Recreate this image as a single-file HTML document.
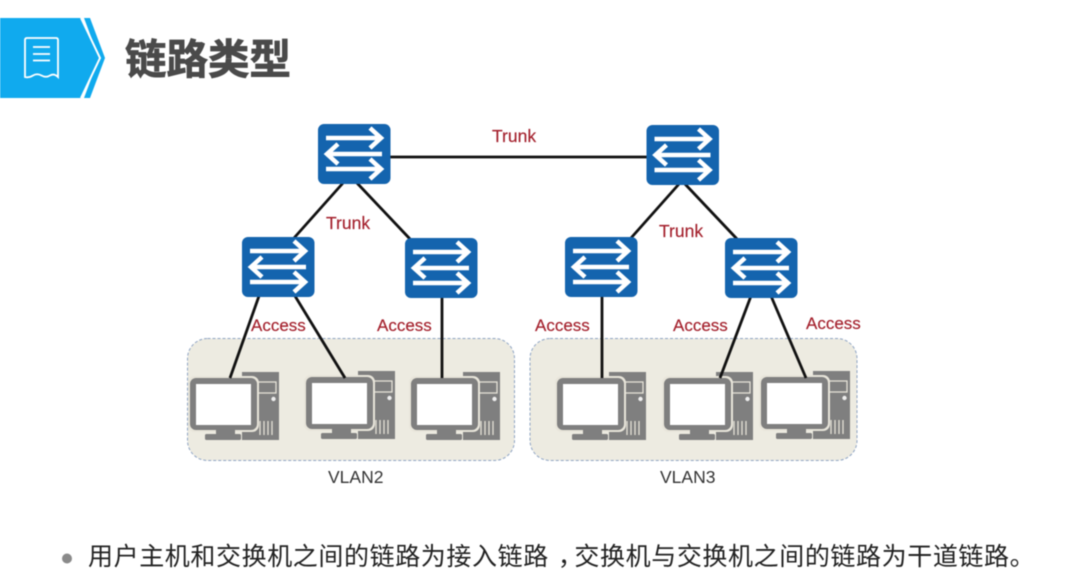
<!DOCTYPE html>
<html lang="zh"><head><meta charset="utf-8"><title>链路类型</title>
<style>
html,body{margin:0;padding:0;background:#fff;width:1066px;height:587px;overflow:hidden}
svg{display:block;filter:blur(.5px)}
text{font-family:"Liberation Sans","Noto Sans CJK SC",sans-serif}
.r{fill:#a31f2b;font-size:17px;stroke:#a31f2b;stroke-width:.15}
.t{font-size:17.500px}
.v{fill:#333;font-size:17.500px}
</style></head><body>
<svg width="1066" height="587" viewBox="0 0 1066 587" xmlns="http://www.w3.org/2000/svg">
<defs>
<g id="sw">
<rect x="0" y="0" width="72.500" height="60" rx="6" fill="#1464ae"/>
<g fill="none" stroke="#fff" stroke-width="4.500">
<path d="M8 14H62M52 4L63 14L52 24"/>
<path d="M64 30H10M20 20L9 30L20 40"/>
<path d="M8 45H62M52 35L63 45L52 55"/>
</g>
</g>
<g id="pc">
<path d="M52 -6H89V62H52Z" fill="#7f7f7f"/>
<rect x="55" y="4" width="31" height="11" fill="#7f7f7f" stroke="#e6e3d8" stroke-width="1.300"/>
<circle cx="83.500" cy="21" r="2.200" fill="#eeeeee"/>
<g stroke="#e6e3d8" stroke-width="1.300"><path d="M70 43V57M74 43V57M78 43V57M82 43V57"/></g>
<rect x="-2" y="-2" width="71" height="56" rx="7" fill="#e8e5da"/>
<rect x="0" y="0" width="67" height="52" rx="6" fill="#7f7f7f"/>
<rect x="6" y="6" width="55" height="41" fill="#fff"/>
<path d="M26 52H45V56H26Z" fill="#7f7f7f"/>
<rect x="15" y="56" width="36" height="6" rx="1.500" fill="#7f7f7f"/>
</g>
</defs>

<path d="M0 18H81L100 58L81 98H0Z" fill="#10aaee"/>
<path d="M84 18H90L105 58L90 98H84L99 58Z" fill="#10aaee"/>
<path d="M81 18L100 58L81 98" fill="none" stroke="#fff" stroke-width="2"/>
<path d="M25 40Q25 38 27 38H56Q58 38 58 40V77Q54 73 50 75.500Q46 78 41.500 75.500Q37 73 33 75.500Q29 78 25 77Z" fill="none" stroke="#fff" stroke-width="1.800"/>
<path d="M33 47H50M33 54H50M33 60.500H50" stroke="#fff" stroke-width="1.800" fill="none"/>
<text x="125" y="74" font-size="41.500" font-weight="700" fill="#4a4a4a" stroke="#4a4a4a" stroke-width=".8">链路类型</text>

<rect x="187.500" y="338.500" width="327" height="122" rx="20" fill="#edebe1" stroke="#8ea4c4" stroke-width="1" stroke-dasharray="3 2"/>
<rect x="530" y="338.500" width="327" height="122" rx="20" fill="#edebe1" stroke="#8ea4c4" stroke-width="1" stroke-dasharray="3 2"/>

<use href="#pc" x="190" y="378"/>
<use href="#pc" x="306" y="377"/>
<use href="#pc" x="411" y="378"/>
<use href="#pc" x="557" y="378"/>
<use href="#pc" x="664" y="378"/>
<use href="#pc" x="761" y="377"/>

<g stroke="#111" stroke-width="2.800" fill="none">
<path d="M390 157H647"/>
<path d="M343 183L294 238M357 183L410 239"/>
<path d="M679 184L631 238M685 184L737 239"/>
<path d="M259 296L230 378M295 296L345 378"/>
<path d="M442 297V378"/>
<path d="M602 296V378"/>
<path d="M751 296L720 378M771 296L806 378"/>
</g>

<use href="#sw" x="318" y="124"/>
<use href="#sw" x="646.500" y="125"/>
<use href="#sw" x="242" y="237"/>
<use href="#sw" x="405" y="238"/>
<use href="#sw" x="565" y="237"/>
<use href="#sw" x="725" y="238"/>

<text class="r t" x="492" y="142">Trunk</text>
<text class="r t" x="326" y="229">Trunk</text>
<text class="r t" x="659" y="237">Trunk</text>
<text class="r" x="251" y="331">Access</text>
<text class="r" x="377" y="331">Access</text>
<text class="r" x="535" y="331">Access</text>
<text class="r" x="673" y="331">Access</text>
<text class="r" x="806" y="329">Access</text>
<text class="v" x="328" y="483">VLAN2</text>
<text class="v" x="660" y="483">VLAN3</text>

<circle cx="67" cy="558.500" r="5" fill="#8a8a8a"/>
<text x="88" y="565" font-size="25" fill="#222" letter-spacing=".6">用户主机和交换机之间的链路为接入链路<tspan dx="9">，</tspan><tspan dx="-9">交换机与交换机之间的链路为干道链路。</tspan></text>
</svg>
</body></html>
